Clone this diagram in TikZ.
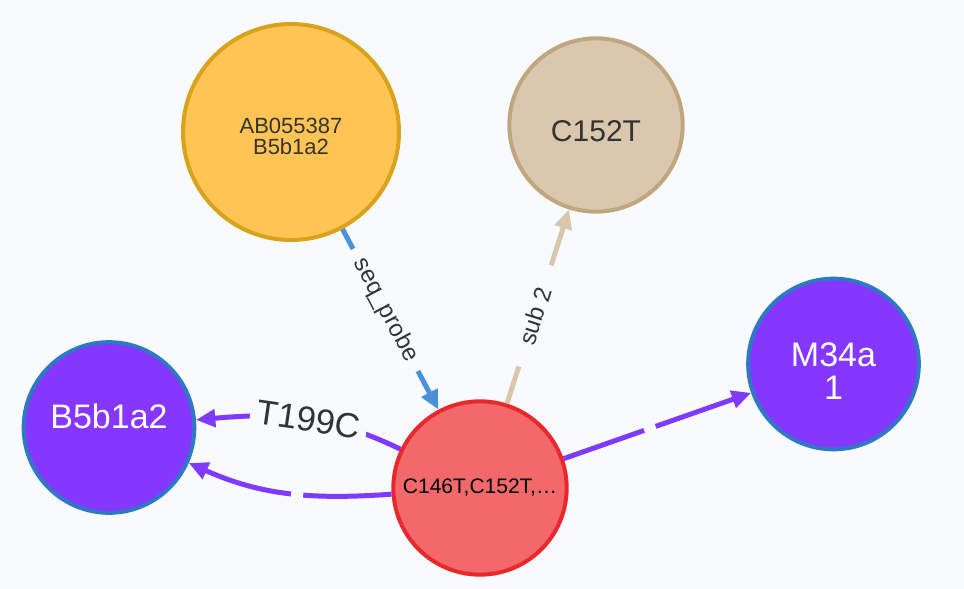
\documentclass[tikz,border=0pt]{standalone}
\usepackage{fontspec}
\setmainfont{Liberation Sans}
\usetikzlibrary{arrows.meta}
\definecolor{bg}{HTML}{F8FBFE}
\definecolor{orangeF}{HTML}{FFC454}
\definecolor{orangeB}{HTML}{D9A21B}
\definecolor{tanF}{HTML}{D9C8AE}
\definecolor{tanB}{HTML}{C1A57F}
\definecolor{purpF}{HTML}{8536FF}
\definecolor{purpB}{HTML}{2E78C5}
\definecolor{redF}{HTML}{F2686B}
\definecolor{redB}{HTML}{E8282B}
\definecolor{blueE}{HTML}{4A90DA}
\definecolor{tanE}{HTML}{D9C7AC}
\definecolor{purpE}{HTML}{8039FF}
\definecolor{txt}{HTML}{333333}
\begin{document}
\begin{tikzpicture}[x=0.75pt,y=0.75pt,
  vnode/.style={circle, line width=3pt, inner sep=0pt, align=center},
  bignode/.style={vnode, minimum size=162pt},
  smallnode/.style={vnode, minimum size=128pt},
  ntext/.style={align=center, inner sep=0pt},
  edgebase/.style={line width=3.75pt, -{Triangle[length=14.5pt,width=13pt]}},
  elabel/.style={fill=bg, inner sep=0pt, text=txt, font=\fontsize{18}{20}\selectfont, minimum height=21pt},
  gapnode/.style={fill=bg, inner sep=0pt, minimum width=9pt, minimum height=8pt}]
\fill[bg] (0,0) rectangle (964,589);
\useasboundingbox (0,0) rectangle (964,589);
% nodes
\node[bignode, draw=orangeB, fill=orangeF,
  label={[ntext, text=txt, font=\fontsize{16.5}{15.75}\selectfont, yshift=-3pt]center:{AB055387\\B5b1a2}}] (ab) at (291,457) {};
\node[smallnode, minimum size=130pt, draw=tanB, fill=tanF,
  label={[ntext, text=txt, font=\fontsize{22.5}{24}\selectfont, yshift=-4.5pt]center:C152T}] (c152) at (596,464) {};
\node[smallnode, draw=purpB, fill=purpF,
  label={[ntext, text=white, font=\fontsize{25.5}{24.75}\selectfont, yshift=8.25pt]center:B5b1a2}] (b5) at (109,161.5) {};
\node[smallnode, draw=purpB, fill=purpF,
  label={[ntext, text=white, font=\fontsize{25.5}{24.75}\selectfont, yshift=-5.25pt]center:{M34a\\1}}] (m34) at (833.5,225) {};
\node[smallnode, minimum size=130pt, draw=redB, fill=redF, text=black, font=\fontsize{15.75}{18}\selectfont] (red) at (480,101) {C146T,C152T,…};
% edges
\draw[edgebase, blueE] (ab) -- (red);
\path (ab.center) -- node[elabel, sloped, minimum width=103.5pt] {seq\_probe} (red.center);
\draw[edgebase, tanE] (red) -- (c152);
\path (red.center) -- node[elabel, sloped, pos=0.474, minimum width=79.5pt] {sub 2} (c152.center);
\draw[edgebase, purpE] (red) to[out=154,in=5] node[elabel, sloped, pos=0.46, minimum width=88pt, font=\fontsize{26}{28}\selectfont] {T199C} (b5);
\draw[edgebase, purpE] (red) to[out=184,in=-24] node[gapnode, sloped, pos=0.45] {} (b5);
\draw[edgebase, purpE] (red) -- node[gapnode, sloped, pos=0.46] {} (m34);
\end{tikzpicture}
\end{document}
